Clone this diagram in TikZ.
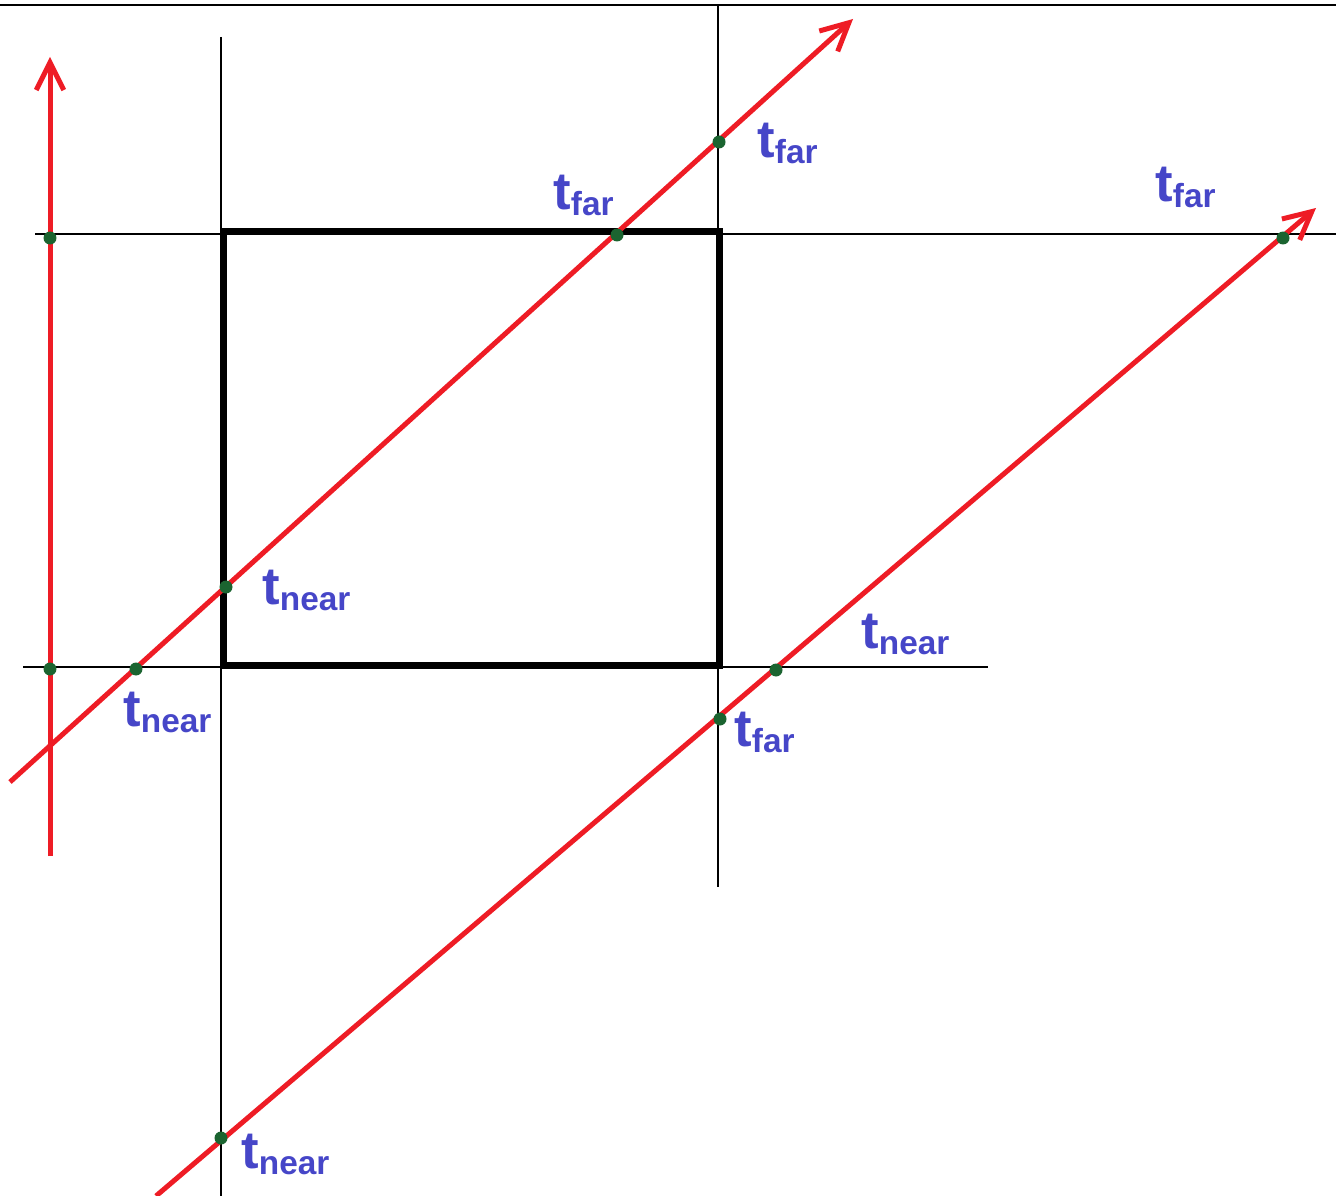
\documentclass[tikz,border=0pt]{standalone}
\usepackage{fontspec}
\setmainfont{Liberation Sans}
\usetikzlibrary{arrows.meta}
\definecolor{raycol}{HTML}{EE1C25}
\definecolor{hitcol}{HTML}{1B6430}
\definecolor{labcol}{HTML}{4646C8}
\newcommand{\tpar}[1]{{\fontsize{30}{32}\selectfont t}\raisebox{-0.12cm}{\fontsize{19}{21}\selectfont #1}}
\tikzset{
    plane/.style={black, line width=0.035cm},
    slabbox/.style={black, line width=0.14cm},
    rayline/.style={raycol, line width=0.1cm, -{Straight Barb[length=0.55cm, width=0.55cm]}},
    hit/.style={circle, fill=hitcol, inner sep=0pt, minimum size=0.26cm},
    tlab/.style={anchor=base west, inner sep=0pt, text=labcol, font=\bfseries},
}
\begin{document}
\begin{tikzpicture}[x=0.02cm, y=-0.02cm]
    \useasboundingbox (0,0) rectangle (1336,1196);
    \draw[line width=0.05cm] (0,5) -- (1336,5);

    % slab planes
    \draw[plane] (221,37) -- (221,1196);
    \draw[plane] (718,5) -- (718,887);
    \draw[plane] (35,234) -- (1336,234);
    \draw[plane] (23,667) -- (988,667);

    % the box
    \draw[slabbox] (223,232) rectangle (719,665);

    % rays
    \coordinate (a0) at (50,856);  \coordinate (a1) at (50,57);
    \coordinate (b0) at (10,782);  \coordinate (b1) at (853,19);
    \coordinate (c0) at (156,1196); \coordinate (c1) at (1316,208);
    \draw[rayline] (a0) -- (a1);
    \draw[rayline] (b0) -- (b1);
    \draw[rayline] (c0) -- (c1);

    % hits
    \node[hit] (ha1) at (50,238) {};
    \node[hit] (ha2) at (50,669) {};
    \node[hit] (hb1) at (136,669) {};
    \node[hit] (hb2) at (226,587) {};
    \node[hit] (hb3) at (617,235) {};
    \node[hit] (hb4) at (719,142) {};
    \node[hit] (hc1) at (221,1138) {};
    \node[hit] (hc2) at (720,719) {};
    \node[hit] (hc3) at (776,670) {};
    \node[hit] (hc4) at (1283,238) {};

    % labels
    \node[tlab] (lb1) at (123,726) {\tpar{near}};
    \node[tlab] (lb2) at (262,604) {\tpar{near}};
    \node[tlab] (lb3) at (553,210) {\tpar{far}};
    \node[tlab] (lb4) at (757,158) {\tpar{far}};
    \node[tlab] (lc1) at (241,1168) {\tpar{near}};
    \node[tlab] (lc2) at (734,746) {\tpar{far}};
    \node[tlab] (lc3) at (861,648) {\tpar{near}};
    \node[tlab] (lc4) at (1155,202) {\tpar{far}};
\end{tikzpicture}
\end{document}
